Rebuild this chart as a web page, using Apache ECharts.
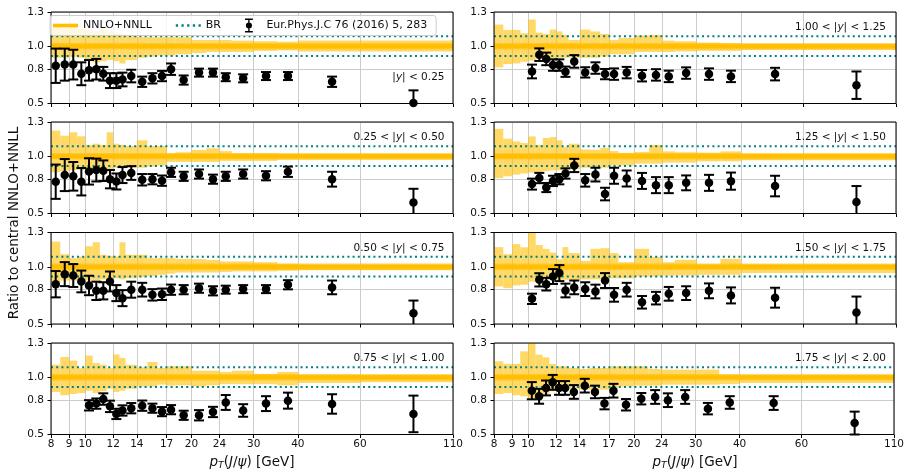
<!DOCTYPE html>
<html><head><meta charset="utf-8">
<script src="https://cdn.jsdelivr.net/npm/echarts@6/dist/echarts.min.js"></script>
<style>html,body{margin:0;padding:0;background:#fff}#c{width:907px;height:472px}</style>
</head><body><div id="c"></div>
<script>
// ---------- data ----------
const binEdges = [8,8.5,9,9.5,10,10.5,11,11.5,12,12.5,13,14,15,16,17,18,20,22,24,26,30,35,40,60,110];
const ptFrom8  = [8.25,8.75,9.25,9.75,10.25,10.75,11.25,11.75,12.25,12.75,13.5,14.5,15.5,16.5,17.5,19,21,23,25,28,32.5,37.5,50,85];
const ptFrom10 = [10.25,10.75,11.25,11.75,12.25,12.75,13.5,14.5,15.5,16.5,17.5,19,21,23,25,28,32.5,37.5,50,85];
const xTicks = [8,9,10,12,14,17,20,24,30,40,60,110];
const yTicks = [0.5,0.8,1.0,1.3];
const brBand = [0.915, 1.088];
const innerBand = [0.972, 1.028];
const rapidityLabels = ['|{i|y}| < 0.25','0.25 < |{i|y}| < 0.50','0.50 < |{i|y}| < 0.75','0.75 < |{i|y}| < 1.00',
                        '1.00 < |{i|y}| < 1.25','1.25 < |{i|y}| < 1.50','1.50 < |{i|y}| < 1.75','1.75 < |{i|y}| < 2.00'];
const seriesNames = ['NNLO+NNLL','BR','Eur.Phys.J.C 76 (2016) 5, 283'];

// |y| < 0.25
const ratio1 = [0.83,0.84,0.84,0.76,0.79,0.80,0.76,0.70,0.70,0.71,0.74,0.69,0.72,0.74,0.80,0.705,0.77,0.77,0.73,0.72,0.74,0.74,0.69,0.505];
const err1   = [0.15,0.14,0.13,0.10,0.09,0.09,0.06,0.065,0.065,0.06,0.055,0.045,0.045,0.045,0.05,0.04,0.035,0.035,0.035,0.035,0.035,0.035,0.045,0.11];
const hi1 = [1.18,1.16,1.17,1.15,1.14,1.13,1.15,1.13,1.12,1.11,1.09,1.08,1.08,1.08,1.08,1.08,1.055,1.055,1.055,1.05,1.045,1.04,1.05,1.05];
const lo1 = [0.90,0.90,0.91,0.90,0.88,0.86,0.87,0.88,0.87,0.85,0.88,0.90,0.91,0.92,0.92,0.93,0.94,0.95,0.95,0.95,0.96,0.965,0.955,0.955];
// 0.25 < |y| < 0.50
const ratio2 = [0.778,0.836,0.825,0.778,0.868,0.88,0.874,0.80,0.78,0.836,0.854,0.795,0.80,0.787,0.86,0.825,0.845,0.80,0.825,0.845,0.83,0.865,0.80,0.596];
const err2   = [0.15,0.14,0.125,0.12,0.115,0.10,0.09,0.08,0.07,0.07,0.06,0.05,0.045,0.045,0.04,0.04,0.04,0.04,0.04,0.04,0.04,0.045,0.065,0.12];
const hi2 = [1.225,1.18,1.21,1.175,1.10,1.11,1.10,1.21,1.11,1.10,1.09,1.14,1.09,1.09,1.026,1.035,1.055,1.07,1.045,1.026,1.025,1.018,1.02,1.02];
const lo2 = [0.86,0.87,0.88,0.88,0.89,0.89,0.90,0.88,0.90,0.90,0.90,0.90,0.91,0.92,0.95,0.95,0.95,0.95,0.96,0.96,0.96,0.97,0.97,0.97];
// 0.50 < |y| < 0.75
const ratio3 = [0.848,0.936,0.924,0.872,0.837,0.79,0.79,0.872,0.77,0.726,0.80,0.80,0.755,0.76,0.80,0.80,0.813,0.79,0.80,0.805,0.805,0.843,0.82,0.595];
const err3   = [0.115,0.105,0.10,0.095,0.085,0.08,0.075,0.087,0.07,0.07,0.07,0.06,0.05,0.05,0.045,0.04,0.04,0.04,0.035,0.035,0.035,0.04,0.06,0.11];
const hi3 = [1.22,1.11,1.076,1.09,1.18,1.215,1.105,1.096,1.09,1.215,1.105,1.105,1.076,1.076,1.076,1.07,1.067,1.06,1.047,1.047,1.04,1.026,1.02,1.02];
const lo3 = [0.86,0.88,0.88,0.89,0.88,0.88,0.89,0.90,0.90,0.89,0.90,0.91,0.92,0.93,0.94,0.95,0.95,0.95,0.955,0.96,0.96,0.965,0.97,0.97];
// 0.75 < |y| < 1.00
const ratio4 = [0.755,0.77,0.81,0.746,0.68,0.71,0.73,0.752,0.73,0.70,0.717,0.668,0.668,0.697,0.78,0.71,0.77,0.796,0.767,0.68];
const err4   = [0.045,0.045,0.05,0.05,0.045,0.045,0.045,0.045,0.04,0.04,0.04,0.04,0.045,0.045,0.065,0.055,0.065,0.07,0.085,0.16];
const hi4 = [1.11,1.178,1.146,1.08,1.19,1.125,1.11,1.08,1.20,1.17,1.11,1.087,1.134,1.082,1.096,1.096,1.058,1.058,1.047,1.058,1.03,1.047,1.023,1.018];
const lo4 = [0.872,0.843,0.854,0.863,0.883,0.863,0.878,0.90,0.872,0.883,0.90,0.92,0.92,0.936,0.927,0.93,0.92,0.93,0.94,0.94,0.94,0.93,0.95,0.956];
// 1.00 < |y| < 1.25
const ratio5 = [0.78,0.927,0.89,0.836,0.836,0.778,0.868,0.772,0.81,0.757,0.757,0.77,0.743,0.75,0.737,0.766,0.757,0.737,0.757,0.66];
const err5   = [0.06,0.055,0.055,0.05,0.05,0.045,0.055,0.045,0.05,0.045,0.05,0.05,0.05,0.05,0.05,0.05,0.05,0.05,0.055,0.12];
const hi5 = [1.19,1.143,1.143,1.114,1.234,1.12,1.108,1.146,1.13,1.10,1.055,1.146,1.13,1.108,1.055,1.073,1.094,1.10,1.05,1.044,1.032,1.026,1.02,1.015];
const lo5 = [0.816,0.845,0.85,0.865,0.875,0.89,0.89,0.89,0.90,0.90,0.90,0.90,0.90,0.91,0.93,0.93,0.95,0.95,0.95,0.955,0.96,0.96,0.968,0.968];
// 1.25 < |y| < 1.50
const ratio6 = [0.757,0.81,0.727,0.785,0.80,0.85,0.92,0.79,0.84,0.67,0.83,0.806,0.785,0.748,0.748,0.768,0.768,0.783,0.74,0.60];
const err6   = [0.048,0.045,0.04,0.045,0.045,0.045,0.058,0.055,0.06,0.055,0.07,0.07,0.07,0.07,0.07,0.065,0.07,0.075,0.09,0.14];
const hi6 = [1.24,1.154,1.13,1.116,1.174,1.10,1.16,1.168,1.14,1.08,1.11,1.06,1.058,1.075,1.046,1.03,1.038,1.10,1.043,1.035,1.032,1.043,1.017,1.017];
const lo6 = [0.81,0.826,0.84,0.85,0.858,0.864,0.87,0.878,0.878,0.878,0.89,0.90,0.90,0.90,0.92,0.92,0.936,0.936,0.945,0.945,0.956,0.956,0.965,0.965];
// 1.50 < |y| < 1.75
const ratio7 = [0.72,0.886,0.848,0.915,0.945,0.793,0.82,0.805,0.784,0.88,0.755,0.80,0.69,0.726,0.764,0.77,0.79,0.75,0.73,0.60];
const err7   = [0.045,0.058,0.055,0.065,0.07,0.06,0.06,0.06,0.06,0.065,0.06,0.06,0.055,0.055,0.06,0.06,0.065,0.07,0.087,0.14];
const hi7 = [1.172,1.11,1.198,1.17,1.32,1.19,1.157,1.125,1.067,1.172,1.12,1.052,1.157,1.163,1.12,1.04,1.157,1.085,1.04,1.061,1.023,1.07,1.023,1.023];
const lo7 = [0.828,0.813,0.837,0.843,0.87,0.857,0.886,0.886,0.886,0.886,0.886,0.89,0.89,0.89,0.90,0.90,0.915,0.915,0.924,0.924,0.93,0.93,0.945,0.945];
// 1.75 < |y| < 2.00
const ratio8 = [0.883,0.834,0.907,0.956,0.907,0.907,0.872,0.927,0.872,0.77,0.883,0.76,0.813,0.828,0.80,0.828,0.726,0.78,0.775,0.60];
const err8   = [0.075,0.065,0.065,0.065,0.06,0.06,0.06,0.06,0.055,0.05,0.06,0.05,0.05,0.06,0.06,0.06,0.05,0.055,0.06,0.10];
const hi8 = [1.14,1.117,1.117,1.227,1.31,1.198,1.175,1.117,1.096,1.096,1.082,1.073,1.082,1.082,1.096,1.096,1.096,1.073,1.067,1.067,1.067,1.023,1.018,1.018];
const lo8 = [0.854,0.863,0.843,0.834,0.82,0.834,0.854,0.878,0.892,0.892,0.90,0.892,0.892,0.892,0.90,0.92,0.927,0.927,0.936,0.936,0.936,0.94,0.95,0.95];

// ---------- build ----------
const panels = [
  {col:0,row:0,pt:ptFrom8, r:ratio1,e:err1,hi:hi1,lo:lo1},
  {col:0,row:1,pt:ptFrom8, r:ratio2,e:err2,hi:hi2,lo:lo2},
  {col:0,row:2,pt:ptFrom8, r:ratio3,e:err3,hi:hi3,lo:lo3},
  {col:0,row:3,pt:ptFrom10,r:ratio4,e:err4,hi:hi4,lo:lo4},
  {col:1,row:0,pt:ptFrom10,r:ratio5,e:err5,hi:hi5,lo:lo5},
  {col:1,row:1,pt:ptFrom10,r:ratio6,e:err6,hi:hi6,lo:lo6},
  {col:1,row:2,pt:ptFrom10,r:ratio7,e:err7,hi:hi7,lo:lo7},
  {col:1,row:3,pt:ptFrom10,r:ratio8,e:err8,hi:hi8,lo:lo8}
];
const LEFTS=[51,494], TOPS=[12,122,232.5,343], W=402, H=91.5;
const FONT='DejaVu Sans';
const BAND='rgba(255,190,0,0.6)', LINEC='#ffbf00', BRC='#008080', GRIDC='#cccccc';

function bandRender(params, api){
  const a = api.coord([api.value(0), api.value(3)]);
  const b = api.coord([api.value(1), api.value(2)]);
  const cs = params.coordSys;
  const shape = echarts.graphic.clipRectByRect(
    {x:a[0], y:a[1], width:b[0]-a[0], height:b[1]-a[1]},
    {x:cs.x, y:cs.y, width:cs.width, height:cs.height});
  if (!shape) return null;
  return {type:'rect', shape:shape, style:{fill:BAND}};
}
function errRender(params, api){
  const x=api.value(0), y=api.value(1), e=api.value(2);
  const cs=params.coordSys;
  const t=api.coord([x,y+e]), b=api.coord([x,y-e]);
  const yMin=cs.y, yMax=cs.y+cs.height, cw=5;
  const st={stroke:'#000', lineWidth:2};
  const ch=[{type:'line', shape:{x1:t[0],y1:Math.max(t[1],yMin),x2:t[0],y2:Math.min(b[1],yMax)}, style:st}];
  if (t[1]>=yMin-0.5) ch.push({type:'line', shape:{x1:t[0]-cw,y1:t[1],x2:t[0]+cw,y2:t[1]}, style:st});
  if (b[1]<=yMax+0.5) ch.push({type:'line', shape:{x1:b[0]-cw,y1:b[1],x2:b[0]+cw,y2:b[1]}, style:st});
  return {type:'group', children:ch};
}

const grids=[], xAxes=[], yAxes=[], series=[], graphics=[];
panels.forEach((p,i)=>{
  const bottom = p.row===3;
  grids.push({left:LEFTS[p.col], top:TOPS[p.row], width:W, height:H, show:true, borderColor:'#000', borderWidth:1, backgroundColor:'transparent', z:10});
  xAxes.push({type:'log', gridIndex:i, min:8, max:110, logBase:10,
    axisLine:{show:false},
    axisTick:{show:true, customValues:xTicks, length:3.5, lineStyle:{color:'#000', width:1}},
    axisLabel:{show:bottom, customValues:xTicks, fontSize:10.5, color:'#111', margin:4, fontFamily:FONT,
      formatter:v=>String(+(+v).toPrecision(3))},
    splitLine:{show:true, lineStyle:{color:GRIDC, width:1}}});
  yAxes.push({type:'value', gridIndex:i, min:0.5, max:1.3,
    axisLine:{show:false},
    axisTick:{show:true, customValues:yTicks, length:3.5, lineStyle:{color:'#000', width:1}},
    axisLabel:{show:true, customValues:yTicks, fontSize:10.5, color:'#111', margin:7, fontFamily:FONT,
      formatter:v=>(+v).toFixed(1)},
    splitLine:{show:true, lineStyle:{color:GRIDC, width:1}}});
  const bandData = p.hi.map((h,k)=>[binEdges[k], binEdges[k+1], p.lo[k], h]);
  series.push({type:'custom', xAxisIndex:i, yAxisIndex:i, renderItem:bandRender, data:bandData,
    encode:{x:[0,1], y:[2,3]}, z:1, silent:true});
  series.push({type:'custom', xAxisIndex:i, yAxisIndex:i, renderItem:bandRender,
    data:[[binEdges[0], binEdges[binEdges.length-1], innerBand[0], innerBand[1]]],
    encode:{x:[0,1], y:[2,3]}, z:1, silent:true});
  series.push({type:'line', name:seriesNames[0], xAxisIndex:i, yAxisIndex:i,
    data:[[8,1],[110,1]], symbol:'none', lineStyle:{color:LINEC, width:4}, itemStyle:{color:LINEC}, z:3, silent:true});
  brBand.forEach(v=>{
    series.push({type:'line', name:seriesNames[1], xAxisIndex:i, yAxisIndex:i,
      data:[[8,v],[110,v]], symbol:'none', lineStyle:{color:BRC, width:2, type:[2,3.2]}, itemStyle:{color:BRC}, z:4, silent:true});
  });
  series.push({type:'custom', xAxisIndex:i, yAxisIndex:i, renderItem:errRender,
    data:p.pt.map((x,k)=>[x,p.r[k],p.e[k]]), encode:{x:0,y:1}, z:5, silent:true});
  series.push({type:'scatter', name:seriesNames[2], xAxisIndex:i, yAxisIndex:i,
    data:p.pt.map((x,k)=>[x,p.r[k]]), symbol:'circle', symbolSize:8.5, itemStyle:{color:'#000', opacity:1}, z:6, silent:true});
  // rapidity label
  const xr = LEFTS[p.col]+W-(p.col===0?8.5:10);
  const yc = i===0 ? 77.7 : TOPS[p.row]+15.5;
  graphics.push({type:'text', x:xr, y:yc, z:20, style:{text:rapidityLabels[i], fill:'#111',
    font:'10.5px '+FONT, fontSize:10.5, fontFamily:FONT, align:'right', verticalAlign:'middle', textAlign:'right', textVerticalAlign:'middle',
    rich:{i:{fontStyle:'italic', fontSize:10.5, fontFamily:FONT, fill:'#111'}}}});
});
// axis titles
graphics.push({type:'text', x:14, y:223, rotation:Math.PI/2, style:{text:'Ratio to central NNLO+NNLL', fill:'#111',
  fontSize:13.5, fontFamily:FONT, align:'center', verticalAlign:'middle', textAlign:'center', textVerticalAlign:'middle'}});
[0,1].forEach(c=>{
  graphics.push({type:'text', x:LEFTS[c]+W/2, y:462, style:{
    text:'{it|p}{sub|T}{n|(}{it|J}{n|/}{it|ψ}{n|) [GeV]}', fill:'#111', align:'center', verticalAlign:'middle', textAlign:'center', textVerticalAlign:'middle',
    rich:{
      it:{fontStyle:'italic', fontSize:13.5, fontFamily:FONT, fill:'#111', lineHeight:18, verticalAlign:'middle'},
      n:{fontSize:13.5, fontFamily:FONT, fill:'#111', lineHeight:18, verticalAlign:'middle'},
      sub:{fontStyle:'italic', fontSize:9.5, fontFamily:FONT, fill:'#111', lineHeight:18, verticalAlign:'bottom'}
    }}});
});

const ERR_ICON='path://M0,0H9V1.6H0Z M0,14.4H9V16H0Z M3.7,0H5.3V16H3.7Z M1,8A3.5,3.5 0 1,1 8,8A3.5,3.5 0 1,1 1,8Z';
const option = {
  animation:false,
  textStyle:{fontFamily:FONT},
  grid:grids, xAxis:xAxes, yAxis:yAxes, series:series, graphic:graphics,
  legend:{left:50, top:15.5, orient:'horizontal', itemWidth:25, itemHeight:14, itemGap:24,
    padding:[3,9,3,3], backgroundColor:'rgba(255,255,255,0.8)', borderColor:'#cccccc', borderWidth:1, borderRadius:3,
    selectedMode:false, z:12,
    textStyle:{fontSize:11, color:'#111', fontFamily:FONT},
    data:[
      {name:seriesNames[0], icon:'path://M0,0H25V3.6H0Z', itemStyle:{color:LINEC, borderWidth:0}},
      {name:seriesNames[1], icon:'path://M0,0h2v2h-2zM5,0h2v2h-2zM10,0h2v2h-2zM15,0h2v2h-2zM20,0h2v2h-2z', itemStyle:{color:BRC, borderWidth:0}},
      {name:seriesNames[2], icon:ERR_ICON, itemStyle:{color:'#000', borderWidth:0}}
    ]}
};
const chart = echarts.init(document.getElementById('c'), null, {renderer:'canvas'});
chart.setOption(option);
</script></body></html>
